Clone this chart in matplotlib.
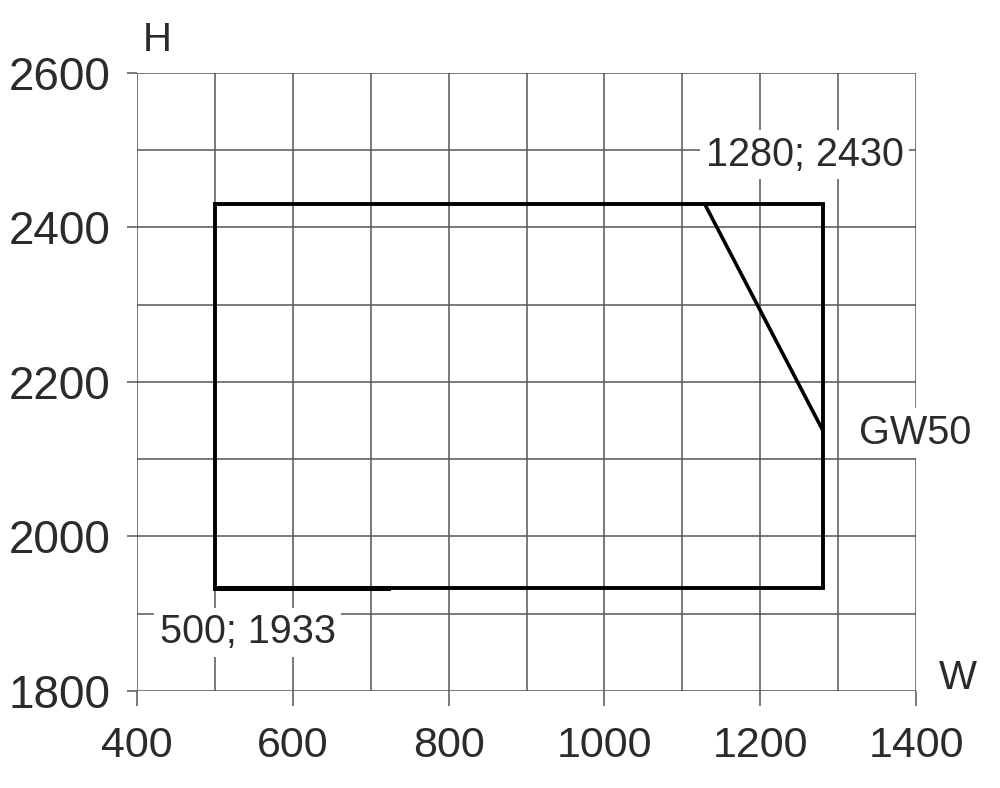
import matplotlib
matplotlib.use('Agg')
import matplotlib.pyplot as plt

plt.rcParams['font.family'] = ['Liberation Sans', 'DejaVu Sans']

# datos del contorno
rect_w = [500, 1280, 1280, 500, 500]
rect_h = [1933, 1933, 2430, 2430, 1933]
diag_w = [1129, 1280]
diag_h = [2430, 2138]
base_w = [500, 722]
base_h = [1933, 1933]

etiquetas = ['1280; 2430', 'GW50', '500; 1933']
etiq_w = [1257, 1399, 542]
etiq_h = [2494, 2134, 1876]

xticks = [400, 600, 800, 1000, 1200, 1400]
yticks = [1800, 2000, 2200, 2400, 2600]

fig = plt.figure(figsize=(10, 7.88), dpi=100)
ax = fig.add_axes([0.137, 0.1231, 0.779, 0.7843])
ax.set_xlim(400, 1400)
ax.set_ylim(1800, 2600)

gris = '#555555'
for v in range(400, 1401, 100):
    ax.axvline(v, color=gris, lw=1.1, zorder=1)
for v in range(1800, 2601, 100):
    ax.axhline(v, color=gris, lw=1.1, zorder=1)

for s in ax.spines.values():
    s.set_visible(False)

ax.plot(rect_w, rect_h, color='black', lw=2.8, zorder=3, solid_joinstyle='miter')
ax.plot(diag_w, diag_h, color='black', lw=2.6, zorder=3)
ax.plot(base_w, base_h, color='black', lw=3.6, zorder=3)

for t, x, y in zip(etiquetas, etiq_w, etiq_h):
    ax.text(x, y, t, fontsize=28.5, color='#2b2b2b', ha='center', va='center', zorder=4,
            bbox=dict(facecolor='white', edgecolor='none', pad=4))

ax.text(426, 2643, 'H', fontsize=29, color='#2b2b2b', ha='center', va='center', clip_on=False)
ax.text(1454, 1817, 'W', fontsize=29, color='#2b2b2b', ha='center', va='center', clip_on=False)

ax.set_xticks(xticks)
ax.set_yticks(yticks)
ax.set_xticklabels([str(v) for v in xticks])
ax.set_yticklabels([str(v) for v in yticks])
ax.tick_params(axis='x', length=11, width=1.1, color=gris, labelsize=31, labelcolor='#2b2b2b', pad=14)
ax.tick_params(axis='y', length=7, width=1.1, color=gris, labelsize=33, labelcolor='#2b2b2b', pad=12)

fig.savefig('out.png', dpi=100, facecolor='white')
